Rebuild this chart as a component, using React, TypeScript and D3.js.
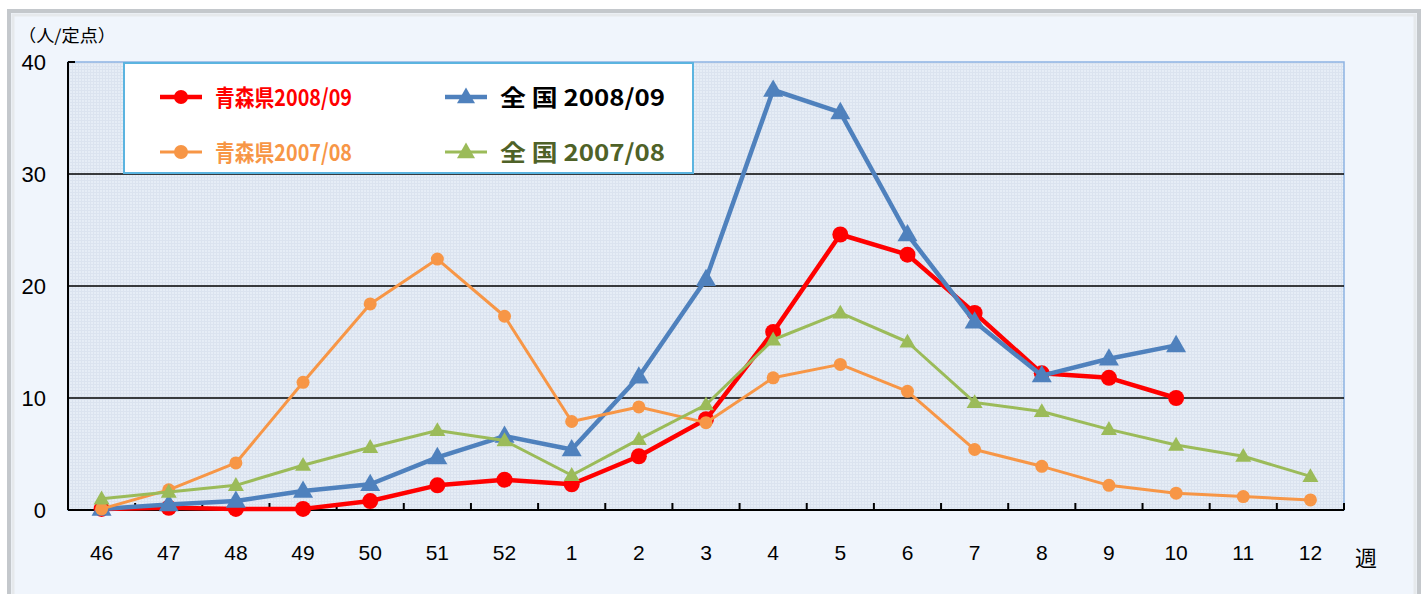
import React, { useEffect, useRef } from 'react';
import * as d3 from 'd3';

// 週（46週〜翌年12週）
const weeks = ['46', '47', '48', '49', '50', '51', '52', '1', '2', '3', '4', '5', '6', '7', '8', '9', '10', '11', '12'];
const yTicks = [0, 10, 20, 30, 40];

// 定点当たり報告数
const aomori0809 = [0.1, 0.2, 0.1, 0.1, 0.8, 2.2, 2.7, 2.3, 4.8, 8.1, 15.9, 24.6, 22.8, 17.6, 12.2, 11.8, 10.0];
const zenkoku0809 = [0.1, 0.5, 0.8, 1.7, 2.3, 4.7, 6.6, 5.4, 11.9, 20.6, 37.5, 35.5, 24.6, 16.8, 12.0, 13.5, 14.7];
const aomori0708 = [0.1, 1.8, 4.2, 11.4, 18.4, 22.4, 17.3, 7.9, 9.2, 7.8, 11.8, 13.0, 10.6, 5.4, 3.9, 2.2, 1.5, 1.2, 0.9];
const zenkoku0708 = [1.0, 1.6, 2.2, 4.0, 5.6, 7.1, 6.2, 3.1, 6.3, 9.4, 15.2, 17.6, 15.0, 9.6, 8.8, 7.2, 5.8, 4.8, 3.0];

const series = [
  { name: '青森県2008/09', values: aomori0809, color: '#ff0000', text: '#ff0000', shape: 'circle', lw: 4.5, size: 8 },
  { name: '全 国 2008/09', values: zenkoku0809, color: '#4f81bd', text: '#000000', shape: 'triangle', lw: 4.5, size: 10 },
  { name: '青森県2007/08', values: aomori0708, color: '#f79646', text: '#f79646', shape: 'circle', lw: 3, size: 6.5 },
  { name: '全 国 2007/08', values: zenkoku0708, color: '#9bbb59', text: '#4f6228', shape: 'triangle', lw: 3, size: 8 },
];

const W = 1426;
const H = 594;
const margin = { top: 62, right: 82, bottom: 84, left: 68 };
const numFont = '"Liberation Sans", Arial, sans-serif';
const jpFont = '"Noto Sans CJK JP", sans-serif';

export default function App() {
  const ref = useRef<SVGSVGElement>(null);

  useEffect(() => {
    const svg = d3.select(ref.current);
    svg.selectAll('*').remove();

    const x = d3.scaleBand().domain(weeks).range([margin.left, W - margin.right]);
    const y = d3.scaleLinear().domain([0, 40]).range([H - margin.bottom, margin.top]);
    const cx = (i: number) => x(weeks[i])! + x.bandwidth() / 2;

    // 背景の枠
    svg.append('rect').attr('width', W).attr('height', H).attr('fill', '#ffffff');
    svg.append('rect').attr('x', 9).attr('y', 11).attr('width', 1410).attr('height', 600)
      .attr('fill', '#f0f5fc').attr('stroke', '#c4c8cc').attr('stroke-width', 4);
    svg.append('rect').attr('x', 13).attr('y', 15).attr('width', 1402).attr('height', 600)
      .attr('fill', 'none').attr('stroke', '#e6e9ec').attr('stroke-width', 3);

    // プロットエリアの模様
    const defs = svg.append('defs');
    const pat = defs.append('pattern').attr('id', 'grid').attr('width', 3).attr('height', 3)
      .attr('patternUnits', 'userSpaceOnUse');
    pat.append('rect').attr('width', 3).attr('height', 3).attr('fill', '#e6edf6');
    pat.append('path').attr('d', 'M0,0.5H3M0.5,0V3').attr('stroke', '#dbe3ef').attr('stroke-width', 1);

    svg.append('rect')
      .attr('x', margin.left).attr('y', margin.top)
      .attr('width', W - margin.right - margin.left).attr('height', y(0) - y(40))
      .attr('fill', 'url(#grid)').attr('stroke', '#8db3e2').attr('stroke-width', 1.5);

    // 目盛線
    svg.append('g').selectAll('line').data(yTicks.filter(d => d > 0 && d < 40)).join('line')
      .attr('x1', margin.left).attr('x2', W - margin.right)
      .attr('y1', d => y(d)).attr('y2', d => y(d))
      .attr('stroke', '#000').attr('stroke-width', 1.5);

    // 軸
    svg.append('line').attr('x1', margin.left).attr('x2', margin.left)
      .attr('y1', y(40)).attr('y2', y(0)).attr('stroke', '#000').attr('stroke-width', 2);
    svg.append('line').attr('x1', margin.left).attr('x2', margin.left + 7)
      .attr('y1', y(40)).attr('y2', y(40)).attr('stroke', '#000').attr('stroke-width', 2);
    svg.append('line').attr('x1', margin.left).attr('x2', W - margin.right)
      .attr('y1', y(0)).attr('y2', y(0)).attr('stroke', '#000').attr('stroke-width', 2);
    svg.append('g').selectAll('line').data(d3.range(weeks.length + 1)).join('line')
      .attr('x1', i => margin.left + i * x.step()).attr('x2', i => margin.left + i * x.step())
      .attr('y1', y(0)).attr('y2', y(0) - 7).attr('stroke', '#000').attr('stroke-width', 2);

    svg.append('g').selectAll('text').data(yTicks).join('text')
      .attr('x', 46).attr('y', d => y(d) + 8).attr('text-anchor', 'end')
      .attr('font-family', numFont).attr('font-size', 22).attr('fill', '#000')
      .text(d => d);

    svg.append('g').selectAll('text').data(weeks).join('text')
      .attr('x', (d, i) => cx(i)).attr('y', 560).attr('text-anchor', 'middle')
      .attr('font-family', numFont).attr('font-size', 21).attr('fill', '#000')
      .text(d => d);

    svg.append('text').attr('x', 1366).attr('y', 566).attr('text-anchor', 'middle')
      .attr('font-family', jpFont).attr('font-size', 22).attr('fill', '#000').text('週');
    svg.append('text').attr('x', 18).attr('y', 42)
      .attr('font-family', jpFont).attr('font-size', 17).attr('fill', '#000')
      .attr('textLength', 98).attr('lengthAdjust', 'spacingAndGlyphs').text('（人/定点）');

    // 系列
    const tri = d3.symbol().type(d3.symbolTriangle);
    const drawMarker = (g: any, s: any, px: number, py: number) => {
      if (s.shape === 'circle') {
        g.append('circle').attr('cx', px).attr('cy', py).attr('r', s.size).attr('fill', s.color);
      } else {
        const a = (s.size * 2) ** 2 * Math.sqrt(3) / 4;
        g.append('path').attr('d', tri.size(a)()).attr('transform', `translate(${px},${py + 1})`)
          .attr('fill', s.color);
      }
    };

    const line = d3.line<number>().x((d, i) => cx(i)).y(d => y(d));
    series.forEach(s => {
      const g = svg.append('g');
      g.append('path').datum(s.values).attr('d', line)
        .attr('fill', 'none').attr('stroke', s.color).attr('stroke-width', s.lw)
        .attr('stroke-linejoin', 'round');
      s.values.forEach((v, i) => drawMarker(g, s, cx(i), y(v)));
    });

    // 凡例
    const lg = svg.append('g');
    lg.append('rect').attr('x', 124).attr('y', 63).attr('width', 569).attr('height', 110)
      .attr('fill', '#ffffff').attr('stroke', '#5bb4e0').attr('stroke-width', 2);
    const pos = [[160, 97], [445, 97], [160, 152], [445, 152]];
    series.forEach((s, i) => {
      const [lx, ly] = pos[i];
      lg.append('line').attr('x1', lx).attr('x2', lx + 42).attr('y1', ly).attr('y2', ly)
        .attr('stroke', s.color).attr('stroke-width', s.lw);
      drawMarker(lg, { ...s, size: s.shape === 'circle' ? 7 : 9 }, lx + 21, ly);
      lg.append('text').attr('x', lx + 55).attr('y', ly + 9)
        .attr('font-family', jpFont).attr('font-weight', 'bold').attr('font-size', 23)
        .attr('fill', s.text).attr('textLength', i % 2 === 0 ? 137 : 165)
        .attr('lengthAdjust', 'spacingAndGlyphs')
        .text(s.name);
    });
  }, []);

  return (
    <svg ref={ref} width={W} height={H}
      style={{ position: 'absolute', left: 0, top: 0, display: 'block' }} />
  );
}
